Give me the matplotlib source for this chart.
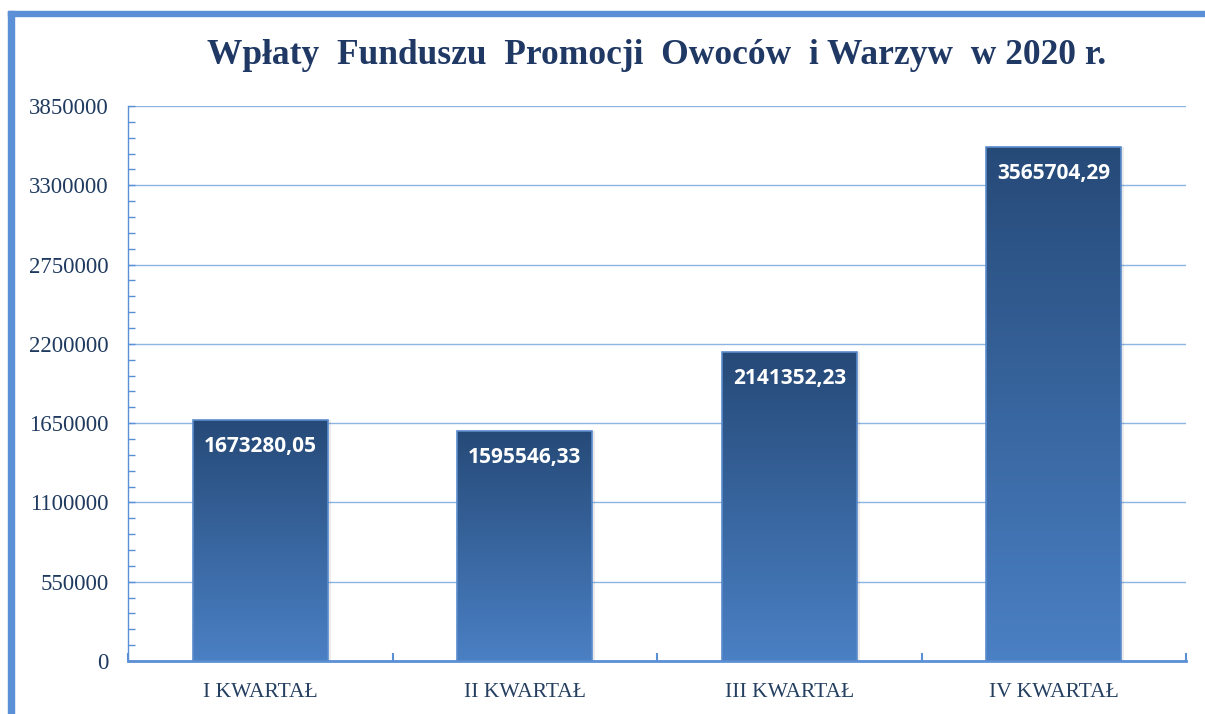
import matplotlib
matplotlib.use('Agg')
import matplotlib.pyplot as plt
import numpy as np
from matplotlib.patches import Rectangle
from matplotlib.colors import LinearSegmentedColormap
from matplotlib.ticker import MultipleLocator, FixedLocator

categories = ['I KWARTAŁ', 'II KWARTAŁ', 'III KWARTAŁ', 'IV KWARTAŁ']
values = [1673280.05, 1595546.33, 2141352.23, 3565704.29]
labels = ['1673280,05', '1595546,33', '2141352,23', '3565704,29']
title = 'Wpłaty  Funduszu  Promocji  Owoców  i Warzyw  w 2020 r.'

fig = plt.figure(figsize=(12.05, 7.14), dpi=100)
ax = fig.add_axes([128 / 1205, 1 - 661 / 714, (1186 - 128) / 1205, (661 - 106) / 714])

# blue frame strips (left and top)
fig.patches.append(Rectangle((8 / 1205, 0), 6 / 1205, (714 - 11) / 714,
                             transform=fig.transFigure, color='#5b8fd6', zorder=0))
fig.patches.append(Rectangle((8 / 1205, (714 - 16) / 714), 1, 5 / 714,
                             transform=fig.transFigure, color='#5b8fd6', zorder=0))

x = np.arange(len(categories))
ax.set_xlim(-0.5, 3.5)
ax.set_ylim(0, 3850000)

cmap = LinearSegmentedColormap.from_list('barg', ['#4a80c4', '#264a78'])
grad = np.linspace(0, 1, 256).reshape(-1, 1)

# shadow
ax.bar(x + 0.012, values, width=0.51, color='#000000', alpha=0.08, zorder=2)
bars = ax.bar(x, values, width=0.51, facecolor='none', edgecolor='#5a8ccc', linewidth=1.2, zorder=4)
for b in bars:
    x0, y0 = b.get_x(), b.get_y()
    w, h = b.get_width(), b.get_height()
    im = ax.imshow(grad, cmap=cmap, aspect='auto', origin='lower',
                   extent=[x0, x0 + w, y0, y0 + h], zorder=3)
    im.set_clip_path(b)

for xi, v, lab in zip(x, values, labels):
    ax.annotate(lab, (xi, v), xytext=(0, -19), textcoords='offset points',
                ha='center', va='center', color='white', fontsize=15,
                fontweight='bold', family='Open Sans', zorder=5)

ax.yaxis.set_major_locator(MultipleLocator(550000))
ax.yaxis.set_minor_locator(MultipleLocator(110000))
ax.grid(axis='y', which='major', color='#8db3e2', linewidth=1, zorder=1)
ax.set_axisbelow(True)

ax.set_xticks(x)
ax.set_xticklabels(categories)
ax.xaxis.set_minor_locator(FixedLocator([-0.5, 0.5, 1.5, 2.5, 3.5]))
ax.tick_params(axis='x', which='major', length=0, pad=16, labelsize=15.5, labelcolor='#243f60')
ax.tick_params(axis='x', which='minor', direction='in', length=6, width=1.5, color='#5b8fd6')
ax.tick_params(axis='y', which='both', direction='in', length=5, color='#5b8fd6', width=1)
ax.tick_params(axis='y', which='major', pad=14, labelsize=16.5, labelcolor='#1f3a5f')

ax.yaxis.set_major_formatter(plt.FuncFormatter(lambda v, p: '%d' % v))
for lab in ax.get_xticklabels() + ax.get_yticklabels():
    lab.set_family('Liberation Serif')

for s in ['top', 'right']:
    ax.spines[s].set_visible(False)
ax.spines['left'].set_color('#5b8fd6')
ax.spines['left'].set_linewidth(1)
ax.spines['bottom'].set_color('#5b8fd6')
ax.spines['bottom'].set_linewidth(2)

fig.text(0.545, 1 - 55 / 714, title, ha='center', va='center', fontsize=25.5,
         fontweight='bold', family='Liberation Serif', color='#1f3864')

fig.savefig('out.png', dpi=100)
